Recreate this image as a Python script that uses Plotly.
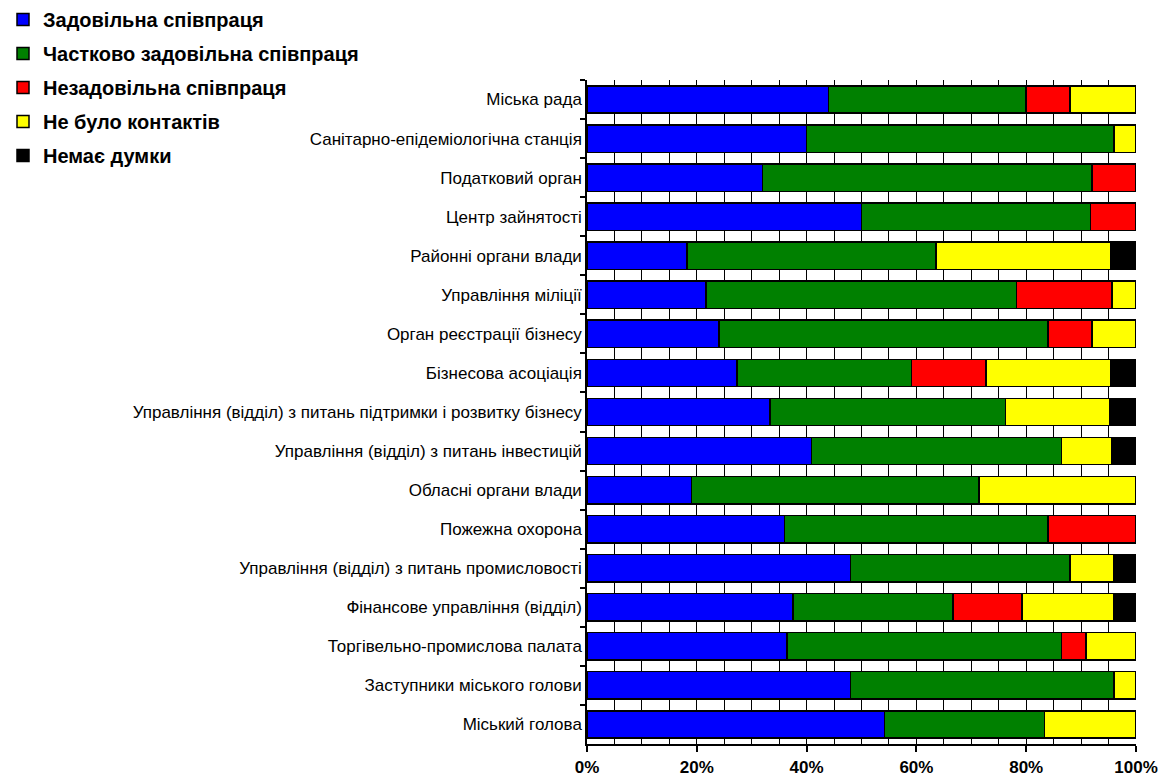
import plotly.graph_objects as go

categories = [
    "Міська рада",
    "Санітарно-епідеміологічна станція",
    "Податковий орган",
    "Центр зайнятості",
    "Районні органи влади",
    "Управління міліції",
    "Орган реєстрації бізнесу",
    "Бізнесова асоціація",
    "Управління (відділ) з питань підтримки і розвитку бізнесу",
    "Управління (відділ) з питань інвестицій",
    "Обласні органи влади",
    "Пожежна охорона",
    "Управління (відділ) з питань промисловості",
    "Фінансове управління (відділ)",
    "Торгівельно-промислова палата",
    "Заступники міського голови",
    "Міський голова",
]

satisfactory = [44, 40, 32, 50, 18.2, 21.7, 24, 27.3, 33.3, 40.9, 19.0, 36, 48, 37.5, 36.4, 48, 54.2]
partly = [36, 56, 60, 41.7, 45.4, 56.5, 60, 31.8, 42.9, 45.5, 52.4, 48, 40, 29.2, 50, 48, 29.1]
unsatisfactory = [8, 0, 8, 8.3, 0, 17.4, 8, 13.6, 0, 0, 0, 16, 0, 12.5, 4.5, 0, 0]
no_contact = [12, 4, 0, 0, 31.8, 4.4, 8, 22.7, 19.0, 9.1, 28.6, 0, 8, 16.7, 9.1, 4, 16.7]
no_opinion = [0, 0, 0, 0, 4.6, 0, 0, 4.6, 4.8, 4.5, 0, 0, 4, 4.1, 0, 0, 0]

series_names = [
    "Задовільна співпраця",
    "Частково задовільна співпраця",
    "Незадовільна співпраця",
    "Не було контактів",
    "Немає думки",
]
series_values = [satisfactory, partly, unsatisfactory, no_contact, no_opinion]
colors = ["#0000FF", "#008000", "#FF0000", "#FFFF00", "#000000"]

tick_vals = [0, 20, 40, 60, 80, 100]
tick_text = ["0%", "20%", "40%", "60%", "80%", "100%"]

FONT = "Arial, Liberation Sans, sans-serif"

# The page body adds an 8px margin, so the figure is sized to fit the window.
FIG_W, FIG_H = 1158, 772
M_L, M_R, M_T, M_B = 579, 30, 72, 36
PLOT_W = FIG_W - M_L - M_R
PLOT_H = FIG_H - M_T - M_B

fig = go.Figure()
for name, vals, col in zip(series_names, series_values, colors):
    fig.add_trace(go.Bar(
        y=categories,
        x=[v if v else None for v in vals],
        name=name,
        orientation="h",
        marker=dict(color=col, line=dict(color="#000000", width=1.5)),
        legendgroup=name,
        hoverinfo="x+y+name",
    ))

fig.update_layout(
    width=FIG_W,
    height=FIG_H,
    barmode="stack",
    bargap=0.3,
    plot_bgcolor="white",
    paper_bgcolor="white",
    margin=dict(l=M_L, r=M_R, t=M_T, b=M_B, autoexpand=False),
    font=dict(family=FONT, color="#000000"),
    legend=dict(
        xref="paper", yref="paper",
        x=-(M_L + 5) / PLOT_W, y=1 + (M_T + 8) / PLOT_H,
        xanchor="left", yanchor="top",
        traceorder="grouped",
        tracegroupgap=5,
        itemwidth=30,
        font=dict(family=FONT, size=20, weight="bold", color="#000000"),
        bgcolor="rgba(0,0,0,0)",
    ),
    xaxis=dict(
        range=[0, 100],
        tickvals=tick_vals,
        ticktext=tick_text,
        showgrid=False,
        zeroline=False,
        showline=True,
        linecolor="#000000",
        linewidth=1.5,
        ticks="outside",
        ticklen=6,
        tickwidth=1.5,
        tickcolor="#000000",
        ticklabelstandoff=1,
        tickfont=dict(family=FONT, size=17, weight="bold", color="#000000"),
        minor=dict(dtick=5, showgrid=True, gridcolor="#000000", gridwidth=1, ticks=""),
        fixedrange=True,
    ),
    yaxis=dict(
        type="category",
        autorange="reversed",
        showgrid=False,
        showline=True,
        linecolor="#000000",
        linewidth=1.5,
        ticks="outside",
        tickson="boundaries",
        ticklen=5,
        tickwidth=1.5,
        tickcolor="#000000",
        tickfont=dict(family=FONT, size=17, color="#000000"),
        fixedrange=True,
    ),
)

fig.write_html("out.html")
